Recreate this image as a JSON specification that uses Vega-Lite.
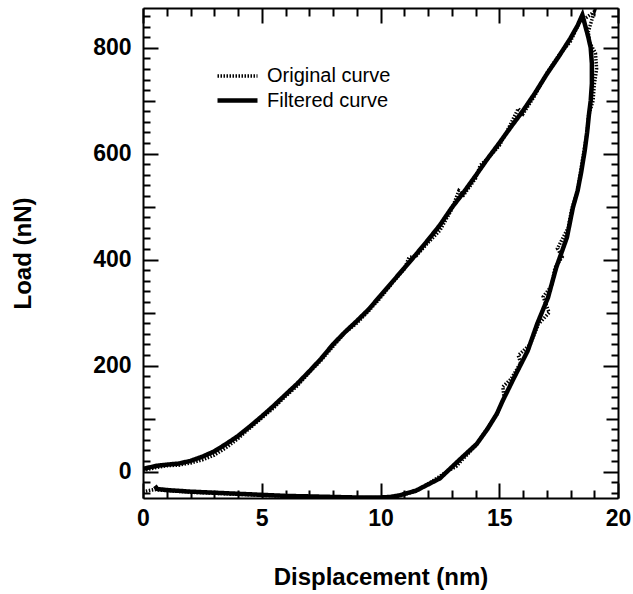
{
  "$schema": "https://vega.github.io/schema/vega-lite/v6.json",
  "width": 475,
  "height": 490,
  "autosize": {"type": "none"},
  "padding": {"left": 143, "top": 8, "right": 15, "bottom": 96},
  "background": "white",
  "config": {
    "view": {"stroke": null},
    "font": "Liberation Sans",
    "axis": {"grid": false, "domainColor": "black", "tickColor": "black", "domainWidth": 2, "tickWidth": 2, "labelColor": "black", "titleColor": "black", "labelFont": "Liberation Sans", "titleFont": "Liberation Sans"},
    "legend": {"orient": "none", "legendX": 82, "legendY": 56, "symbolType": "M-2,0H2", "symbolSize": 400, "symbolStrokeColor": "black", "labelFontSize": 20, "labelFont": "Liberation Sans", "labelColor": "black", "labelOffset": 17, "rowPadding": 2, "title": null}
  },
  "data": {"values": [
    {"series": "Original curve", "d": 0, "L": 2},
    {"series": "Original curve", "d": 0.3, "L": 5},
    {"series": "Original curve", "d": 0.6, "L": 8},
    {"series": "Original curve", "d": 1.0, "L": 11},
    {"series": "Original curve", "d": 1.5, "L": 12},
    {"series": "Original curve", "d": 2.0, "L": 16},
    {"series": "Original curve", "d": 2.5, "L": 22},
    {"series": "Original curve", "d": 3.0, "L": 31},
    {"series": "Original curve", "d": 3.5, "L": 45},
    {"series": "Original curve", "d": 4.0, "L": 62},
    {"series": "Original curve", "d": 4.5, "L": 82},
    {"series": "Original curve", "d": 5.0, "L": 101},
    {"series": "Original curve", "d": 5.5, "L": 120},
    {"series": "Original curve", "d": 6.0, "L": 142},
    {"series": "Original curve", "d": 6.5, "L": 162},
    {"series": "Original curve", "d": 7.0, "L": 187},
    {"series": "Original curve", "d": 7.5, "L": 210},
    {"series": "Original curve", "d": 8.0, "L": 236},
    {"series": "Original curve", "d": 8.5, "L": 262},
    {"series": "Original curve", "d": 9.0, "L": 280},
    {"series": "Original curve", "d": 9.5, "L": 303},
    {"series": "Original curve", "d": 10.0, "L": 328},
    {"series": "Original curve", "d": 10.5, "L": 356},
    {"series": "Original curve", "d": 11.0, "L": 382},
    {"series": "Original curve", "d": 11.2, "L": 404},
    {"series": "Original curve", "d": 11.5, "L": 407},
    {"series": "Original curve", "d": 12.0, "L": 432},
    {"series": "Original curve", "d": 12.5, "L": 455},
    {"series": "Original curve", "d": 13.0, "L": 495},
    {"series": "Original curve", "d": 13.3, "L": 530},
    {"series": "Original curve", "d": 13.5, "L": 522},
    {"series": "Original curve", "d": 14.0, "L": 553},
    {"series": "Original curve", "d": 14.2, "L": 578},
    {"series": "Original curve", "d": 14.5, "L": 590},
    {"series": "Original curve", "d": 15.0, "L": 615},
    {"series": "Original curve", "d": 15.3, "L": 640},
    {"series": "Original curve", "d": 15.8, "L": 685},
    {"series": "Original curve", "d": 16.0, "L": 675},
    {"series": "Original curve", "d": 16.5, "L": 710},
    {"series": "Original curve", "d": 17.0, "L": 752},
    {"series": "Original curve", "d": 17.5, "L": 785},
    {"series": "Original curve", "d": 18.0, "L": 812},
    {"series": "Original curve", "d": 18.4, "L": 850},
    {"series": "Original curve", "d": 18.7, "L": 858},
    {"series": "Original curve", "d": 19.0, "L": 868},
    {"series": "Original curve", "d": 18.75, "L": 830},
    {"series": "Original curve", "d": 18.8, "L": 810},
    {"series": "Original curve", "d": 19.05, "L": 790},
    {"series": "Original curve", "d": 19.1, "L": 760},
    {"series": "Original curve", "d": 19.0, "L": 730},
    {"series": "Original curve", "d": 18.95, "L": 700},
    {"series": "Original curve", "d": 18.75, "L": 670},
    {"series": "Original curve", "d": 18.7, "L": 640},
    {"series": "Original curve", "d": 18.55, "L": 600},
    {"series": "Original curve", "d": 18.4, "L": 560},
    {"series": "Original curve", "d": 18.3, "L": 530},
    {"series": "Original curve", "d": 18.05, "L": 495},
    {"series": "Original curve", "d": 17.9, "L": 460},
    {"series": "Original curve", "d": 17.45, "L": 421},
    {"series": "Original curve", "d": 17.65, "L": 405},
    {"series": "Original curve", "d": 17.35, "L": 385},
    {"series": "Original curve", "d": 17.2, "L": 350},
    {"series": "Original curve", "d": 16.85, "L": 330},
    {"series": "Original curve", "d": 17.1, "L": 300},
    {"series": "Original curve", "d": 16.65, "L": 278},
    {"series": "Original curve", "d": 16.3, "L": 240},
    {"series": "Original curve", "d": 15.8, "L": 219},
    {"series": "Original curve", "d": 15.9, "L": 205},
    {"series": "Original curve", "d": 15.5, "L": 175},
    {"series": "Original curve", "d": 15.15, "L": 160},
    {"series": "Original curve", "d": 15.2, "L": 140},
    {"series": "Original curve", "d": 14.9, "L": 108},
    {"series": "Original curve", "d": 14.4, "L": 75},
    {"series": "Original curve", "d": 14.0, "L": 48},
    {"series": "Original curve", "d": 13.5, "L": 25},
    {"series": "Original curve", "d": 13.2, "L": 10},
    {"series": "Original curve", "d": 12.8, "L": 0},
    {"series": "Original curve", "d": 12.3, "L": -15},
    {"series": "Original curve", "d": 11.5, "L": -37},
    {"series": "Original curve", "d": 10.8, "L": -46},
    {"series": "Original curve", "d": 10.0, "L": -50},
    {"series": "Original curve", "d": 9.0, "L": -50},
    {"series": "Original curve", "d": 8.0, "L": -49},
    {"series": "Original curve", "d": 7.0, "L": -48},
    {"series": "Original curve", "d": 6.0, "L": -46},
    {"series": "Original curve", "d": 5.0, "L": -45},
    {"series": "Original curve", "d": 4.0, "L": -43},
    {"series": "Original curve", "d": 3.0, "L": -41},
    {"series": "Original curve", "d": 2.0, "L": -39},
    {"series": "Original curve", "d": 1.0, "L": -36},
    {"series": "Original curve", "d": 0.5, "L": -34},
    {"series": "Original curve", "d": 0.0, "L": -38},
    {"series": "Filtered curve", "d": 0, "L": 5},
    {"series": "Filtered curve", "d": 0.3, "L": 8},
    {"series": "Filtered curve", "d": 0.6, "L": 11},
    {"series": "Filtered curve", "d": 1.0, "L": 13},
    {"series": "Filtered curve", "d": 1.5, "L": 15},
    {"series": "Filtered curve", "d": 2.0, "L": 20},
    {"series": "Filtered curve", "d": 2.5, "L": 28},
    {"series": "Filtered curve", "d": 3.0, "L": 38},
    {"series": "Filtered curve", "d": 3.5, "L": 52},
    {"series": "Filtered curve", "d": 4.0, "L": 67},
    {"series": "Filtered curve", "d": 4.5, "L": 85},
    {"series": "Filtered curve", "d": 5.0, "L": 104},
    {"series": "Filtered curve", "d": 5.5, "L": 124},
    {"series": "Filtered curve", "d": 6.0, "L": 145},
    {"series": "Filtered curve", "d": 6.5, "L": 166},
    {"series": "Filtered curve", "d": 7.0, "L": 189},
    {"series": "Filtered curve", "d": 7.5, "L": 213},
    {"series": "Filtered curve", "d": 8.0, "L": 240},
    {"series": "Filtered curve", "d": 8.5, "L": 263},
    {"series": "Filtered curve", "d": 9.0, "L": 284},
    {"series": "Filtered curve", "d": 9.5, "L": 306},
    {"series": "Filtered curve", "d": 10.0, "L": 332},
    {"series": "Filtered curve", "d": 10.5, "L": 358},
    {"series": "Filtered curve", "d": 11.0, "L": 384},
    {"series": "Filtered curve", "d": 11.5, "L": 410},
    {"series": "Filtered curve", "d": 12.0, "L": 437},
    {"series": "Filtered curve", "d": 12.5, "L": 465},
    {"series": "Filtered curve", "d": 13.0, "L": 498},
    {"series": "Filtered curve", "d": 13.5, "L": 527},
    {"series": "Filtered curve", "d": 14.0, "L": 558},
    {"series": "Filtered curve", "d": 14.5, "L": 590},
    {"series": "Filtered curve", "d": 15.0, "L": 620},
    {"series": "Filtered curve", "d": 15.5, "L": 651},
    {"series": "Filtered curve", "d": 16.0, "L": 681},
    {"series": "Filtered curve", "d": 16.5, "L": 714},
    {"series": "Filtered curve", "d": 17.0, "L": 750},
    {"series": "Filtered curve", "d": 17.5, "L": 783},
    {"series": "Filtered curve", "d": 18.0, "L": 818},
    {"series": "Filtered curve", "d": 18.3, "L": 842},
    {"series": "Filtered curve", "d": 18.5, "L": 862},
    {"series": "Filtered curve", "d": 18.6, "L": 845},
    {"series": "Filtered curve", "d": 18.75, "L": 820},
    {"series": "Filtered curve", "d": 18.85, "L": 800},
    {"series": "Filtered curve", "d": 18.9, "L": 770},
    {"series": "Filtered curve", "d": 18.9, "L": 732},
    {"series": "Filtered curve", "d": 18.85, "L": 700},
    {"series": "Filtered curve", "d": 18.78, "L": 675},
    {"series": "Filtered curve", "d": 18.7, "L": 640},
    {"series": "Filtered curve", "d": 18.6, "L": 606},
    {"series": "Filtered curve", "d": 18.45, "L": 565},
    {"series": "Filtered curve", "d": 18.3, "L": 530},
    {"series": "Filtered curve", "d": 18.1, "L": 498},
    {"series": "Filtered curve", "d": 17.85, "L": 442},
    {"series": "Filtered curve", "d": 17.4, "L": 385},
    {"series": "Filtered curve", "d": 17.05, "L": 328},
    {"series": "Filtered curve", "d": 16.6, "L": 279},
    {"series": "Filtered curve", "d": 16.2, "L": 228},
    {"series": "Filtered curve", "d": 15.6, "L": 175},
    {"series": "Filtered curve", "d": 15.15, "L": 134},
    {"series": "Filtered curve", "d": 14.9, "L": 109},
    {"series": "Filtered curve", "d": 14.5, "L": 80},
    {"series": "Filtered curve", "d": 14.05, "L": 52},
    {"series": "Filtered curve", "d": 13.3, "L": 21},
    {"series": "Filtered curve", "d": 12.5, "L": -13},
    {"series": "Filtered curve", "d": 11.5, "L": -36},
    {"series": "Filtered curve", "d": 10.8, "L": -45},
    {"series": "Filtered curve", "d": 10.4, "L": -48},
    {"series": "Filtered curve", "d": 10.0, "L": -49},
    {"series": "Filtered curve", "d": 9.0, "L": -49},
    {"series": "Filtered curve", "d": 8.0, "L": -48},
    {"series": "Filtered curve", "d": 7.0, "L": -47},
    {"series": "Filtered curve", "d": 6.0, "L": -46},
    {"series": "Filtered curve", "d": 5.0, "L": -44},
    {"series": "Filtered curve", "d": 4.0, "L": -42},
    {"series": "Filtered curve", "d": 3.0, "L": -40},
    {"series": "Filtered curve", "d": 2.0, "L": -38},
    {"series": "Filtered curve", "d": 1.0, "L": -35},
    {"series": "Filtered curve", "d": 0.6, "L": -33},
    {"series": "Filtered curve", "d": 0.5, "L": -27}
  ]},
  "resolve": {"axis": {"x": "independent", "y": "independent"}},
  "layer": [
    {
      "transform": [{"filter": "datum.series === 'Original curve'"}],
      "mark": {"type": "line", "color": "black", "clip": true},
      "encoding": {
        "x": {"field": "d", "type": "quantitative", "scale": {"domain": [0, 20], "nice": false},
              "axis": {"orient": "bottom", "values": [0, 5, 10, 15, 20], "tickSize": -15, "labelFontSize": 23, "labelFontWeight": "bold", "labelPadding": 24, "labelFlush": false, "title": "Displacement (nm)", "titleFontSize": 24, "titleFontWeight": "bold", "titlePadding": 35}},
        "y": {"field": "L", "type": "quantitative", "scale": {"domain": [-50, 875], "nice": false, "zero": false},
              "axis": {"orient": "left", "values": [0, 200, 400, 600, 800], "tickSize": -15, "labelFontSize": 23, "labelFontWeight": "bold", "labelPadding": 27, "labelFlush": false, "title": "Load (nN)", "titleFontSize": 24, "titleFontWeight": "bold", "titlePadding": 57}},
        "order": {"value": null},
        "strokeDash": {"field": "series", "type": "nominal", "scale": {"domain": ["Original curve", "Filtered curve"], "range": [[1.5, 1.5], [1, 0]]}, "legend": {}},
        "strokeWidth": {"field": "series", "type": "nominal", "scale": {"domain": ["Original curve", "Filtered curve"], "range": [3.5, 4.5]}, "legend": {}}
      }
    },
    {
      "transform": [{"filter": "datum.series === 'Filtered curve'"}],
      "mark": {"type": "line", "color": "black", "clip": true},
      "encoding": {
        "x": {"field": "d", "type": "quantitative", "axis": {"orient": "top", "values": [0, 5, 10, 15, 20], "tickSize": -15, "labels": false, "title": null}},
        "y": {"field": "L", "type": "quantitative", "axis": {"orient": "right", "values": [0, 200, 400, 600, 800], "tickSize": -15, "labels": false, "title": null}},
        "order": {"value": null},
        "strokeDash": {"field": "series", "type": "nominal", "legend": {}},
        "strokeWidth": {"field": "series", "type": "nominal", "legend": {}}
      }
    },
    {
      "mark": {"type": "point", "opacity": 0},
      "encoding": {
        "x": {"field": "d", "type": "quantitative", "axis": {"orient": "bottom", "values": [1, 2, 3, 4, 6, 7, 8, 9, 11, 12, 13, 14, 16, 17, 18, 19], "tickSize": -8, "labels": false, "domain": false, "title": null}},
        "y": {"field": "L", "type": "quantitative", "axis": {"orient": "left", "values": [100, 300, 500, 700], "tickSize": -12, "labels": false, "domain": false, "title": null}}
      }
    },
    {
      "mark": {"type": "point", "opacity": 0},
      "encoding": {
        "x": {"field": "d", "type": "quantitative", "axis": {"orient": "top", "values": [1, 2, 3, 4, 6, 7, 8, 9, 11, 12, 13, 14, 16, 17, 18, 19], "tickSize": -8, "labels": false, "domain": false, "title": null}},
        "y": {"field": "L", "type": "quantitative", "axis": {"orient": "right", "values": [100, 300, 500, 700], "tickSize": -12, "labels": false, "domain": false, "title": null}}
      }
    },
    {
      "mark": {"type": "point", "opacity": 0},
      "encoding": {
        "x": {"field": "d", "type": "quantitative", "axis": null},
        "y": {"field": "L", "type": "quantitative", "axis": {"orient": "left", "values": [-40, -20, 20, 40, 60, 80, 120, 140, 160, 180, 220, 240, 260, 280, 320, 340, 360, 380, 420, 440, 460, 480, 520, 540, 560, 580, 620, 640, 660, 680, 720, 740, 760, 780, 820, 840, 860], "tickSize": -7, "labels": false, "domain": false, "title": null}}
      }
    },
    {
      "mark": {"type": "point", "opacity": 0},
      "encoding": {
        "x": {"field": "d", "type": "quantitative", "axis": null},
        "y": {"field": "L", "type": "quantitative", "axis": {"orient": "right", "values": [-40, -20, 20, 40, 60, 80, 120, 140, 160, 180, 220, 240, 260, 280, 320, 340, 360, 380, 420, 440, 460, 480, 520, 540, 560, 580, 620, 640, 660, 680, 720, 740, 760, 780, 820, 840, 860], "tickSize": -7, "labels": false, "domain": false, "title": null}}
      }
    }
  ]
}
